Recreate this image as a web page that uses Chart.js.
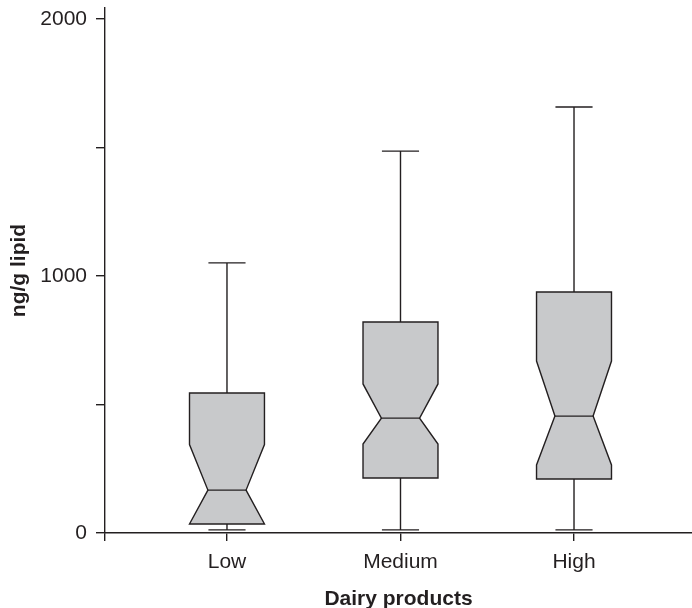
<!DOCTYPE html>
<html>
<head>
<meta charset="utf-8">
<title>Dairy products box plot</title>
<script src="https://cdn.jsdelivr.net/npm/chart.js@4"></script>
<style>
  html, body { margin: 0; padding: 0; background: #fff; }
  #wrap { width: 692px; height: 608px; }
</style>
</head>
<body>
<div id="wrap"><canvas id="boxChart" width="692" height="608"></canvas></div>
<script>
/* ---------- DATA (ng/g lipid) ---------- */
const categories  = ['Low', 'Medium', 'High'];
const whiskerLow  = [12, 12, 12];
const q1          = [35, 214, 210];
const notchLow    = [35, 346, 265];
const median      = [167, 447, 455];
const notchHigh   = [344, 580, 669];
const q3          = [545, 821, 938];
const whiskerHigh = [1051, 1486, 1658];
const yTicks      = [0, 500, 1000, 1500, 2000];

/* ---------- STYLE ---------- */
const INK   = '#231f20';
const FILL  = '#c8c9cb';
const FONT  = '"Liberation Sans", Arial, Helvetica, sans-serif';
const X_MIN = 0.297, X_MAX = 3.68;
const BOX_HALF = 0.216, NOTCH_HALF = 0.11, CAP_HALF = 0.107;

// draws the notched boxes through the chart's own scales
const notchBoxes = {
    id: 'notchBoxes',
    afterDatasetsDraw(chart) {
        const { ctx, scales: { x, y } } = chart;
        ctx.save();
        ctx.strokeStyle = INK;
        ctx.lineWidth = 1.4;
        ctx.lineJoin = 'miter';
        categories.forEach((c, i) => {
            const v  = i + 1;
            const xc = x.getPixelForValue(v);
            const xl = x.getPixelForValue(v - BOX_HALF),   xr = x.getPixelForValue(v + BOX_HALF);
            const nl = x.getPixelForValue(v - NOTCH_HALF), nr = x.getPixelForValue(v + NOTCH_HALF);
            const cl = x.getPixelForValue(v - CAP_HALF),   cr = x.getPixelForValue(v + CAP_HALF);

            // whiskers + caps
            ctx.beginPath();
            ctx.moveTo(xc, y.getPixelForValue(whiskerHigh[i]));
            ctx.lineTo(xc, y.getPixelForValue(q3[i]));
            ctx.moveTo(cl, y.getPixelForValue(whiskerHigh[i]));
            ctx.lineTo(cr, y.getPixelForValue(whiskerHigh[i]));
            ctx.moveTo(xc, y.getPixelForValue(q1[i]));
            ctx.lineTo(xc, y.getPixelForValue(whiskerLow[i]));
            ctx.moveTo(cl, y.getPixelForValue(whiskerLow[i]));
            ctx.lineTo(cr, y.getPixelForValue(whiskerLow[i]));
            ctx.stroke();

            // notched box
            const yq3 = y.getPixelForValue(q3[i]), yq1 = y.getPixelForValue(q1[i]);
            const ynh = y.getPixelForValue(notchHigh[i]), ynl = y.getPixelForValue(notchLow[i]);
            const ym  = y.getPixelForValue(median[i]);
            ctx.beginPath();
            ctx.moveTo(xl, yq3);
            ctx.lineTo(xr, yq3);
            ctx.lineTo(xr, ynh);
            ctx.lineTo(nr, ym);
            ctx.lineTo(xr, ynl);
            ctx.lineTo(xr, yq1);
            ctx.lineTo(xl, yq1);
            ctx.lineTo(xl, ynl);
            ctx.lineTo(nl, ym);
            ctx.lineTo(xl, ynh);
            ctx.closePath();
            ctx.fillStyle = FILL;
            ctx.fill();
            ctx.stroke();

            // median
            ctx.beginPath();
            ctx.moveTo(nl, ym);
            ctx.lineTo(nr, ym);
            ctx.stroke();
        });
        ctx.restore();
    }
};

new Chart(document.getElementById('boxChart'), {
    type: 'scatter',
    data: {
        datasets: [{
            data: median.map((m, i) => ({ x: i + 1, y: m })),
            pointRadius: 0,
            pointHoverRadius: 0,
        }]
    },
    options: {
        responsive: false,
        animation: false,
        devicePixelRatio: 1,
        layout: { padding: { top: 8, right: 0, bottom: 0, left: 0 } },
        plugins: { legend: { display: false }, tooltip: { enabled: false } },
        scales: {
            x: {
                type: 'linear',
                min: X_MIN,
                max: X_MAX,
                afterBuildTicks: s => { s.ticks = [{ value: X_MIN }].concat(categories.map((c, i) => ({ value: i + 1 }))); },
                afterFit: s => { s.height = 75; s.paddingLeft = 0; s.paddingRight = 0; },
                border: { color: INK, width: 1.4 },
                grid: { drawOnChartArea: false, drawTicks: true, tickLength: 8, color: INK, lineWidth: 1.4 },
                ticks: {
                    autoSkip: false,
                    maxRotation: 0,
                    padding: 9,
                    color: INK,
                    font: { family: FONT, size: 21 },
                    callback: v => Number.isInteger(v) ? categories[v - 1] : ''
                },
                title: {
                    display: true,
                    text: 'Dairy products',
                    color: INK,
                    font: { family: FONT, size: 21, weight: 'bold', lineHeight: 1 },
                    padding: { top: 0, bottom: -2 }
                }
            },
            y: {
                min: 0,
                max: 2043,
                afterBuildTicks: s => { s.ticks = yTicks.map(v => ({ value: v })); },
                afterFit: s => { s.width = 105; s.paddingTop = 0; s.paddingBottom = 0; },
                border: { color: INK, width: 1.4 },
                grid: { drawOnChartArea: false, drawTicks: true, tickLength: 9, color: INK, lineWidth: 1.4 },
                ticks: {
                    padding: 9,
                    color: INK,
                    font: { family: FONT, size: 21 },
                    callback: v => v % 1000 === 0 ? String(v) : ''
                },
                title: {
                    display: true,
                    text: 'ng/g lipid',
                    color: INK,
                    font: { family: FONT, size: 21, weight: 'bold', lineHeight: 1 },
                    padding: { top: 9, bottom: 0 }
                }
            }
        }
    },
    plugins: [notchBoxes]
});
</script>
</body>
</html>
